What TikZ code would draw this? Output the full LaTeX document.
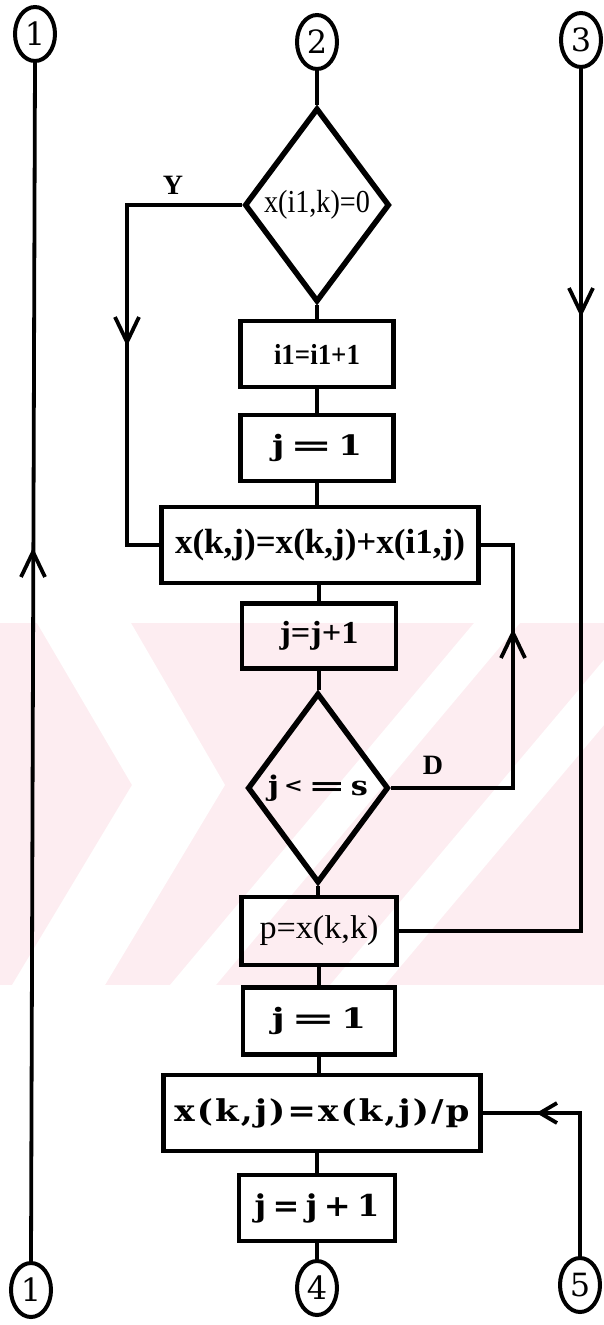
\documentclass[tikz,border=0pt]{standalone}
\usepackage{fontspec}
\usepackage{graphicx}
\usetikzlibrary{shapes.geometric,calc}
\newfontfamily\cent{DejaVu Serif}
\newfontfamily\tms{Liberation Serif}
\definecolor{wm}{RGB}{253,237,241}
\newcommand\fw[2]{\resizebox{#1}{\height}{#2}}
\newcommand\fs[1]{\fontsize{#1}{#1}\selectfont}
\newcommand\weq{\scalebox{1.5}[1]{=}}
\newcommand\arrup[1]{\draw[conn] ($(#1)+(-12,25)$) -- (#1) -- ($(#1)+(12,25)$);}
\newcommand\arrdown[1]{\draw[conn] ($(#1)+(-12,-25)$) -- (#1) -- ($(#1)+(12,-25)$);}
\newcommand\arrleft[1]{\draw[conn] ($(#1)+(17,-10)$) -- (#1) -- ($(#1)+(17,10)$);}
\begin{document}
\begin{tikzpicture}[x=1pt,y=-1pt,line join=miter,
  conn/.style={line width=3.8pt},
  bx/.style 2 args={draw,line width=4.5pt,inner sep=0pt,minimum width=#1,minimum height=#2},
  dm/.style 2 args={draw,diamond,line width=5.5pt,inner sep=0pt,minimum width=#1,minimum height=#2},
  circ/.style={draw,ellipse,line width=4pt,inner sep=0pt,minimum width=40,minimum height=54,font=\cent\fs{32}},
  lbl/.style={inner sep=0pt,font=\tms\bfseries\fs{28}}]
\useasboundingbox (0,0) rectangle (604,1325);
\fill[white] (0,0) rectangle (604,1325);
% watermark band
\fill[wm] (0,623) rectangle (604,985);
\begin{scope}
\clip (0,623) rectangle (604,985);
\fill[white] (37,623) -- (131,623) -- (225,785) -- (105,985) -- (12,985) -- (132,785) -- cycle;
\fill[white] (170,985) -- (216,985) -- (520,623) -- (474,623) -- cycle;
\fill[white] (330,985) -- (385,985) -- (690,623) -- (635,623) -- cycle;
\end{scope}
% connectors circles
\node[circ] (c1t) at (35,34) {1};
\node[circ] (c2t) at (317,42) {2};
\node[circ] (c3t) at (581,40) {3};
\node[circ] (c1b) at (31,1290) {1};
\node[circ] (c4) at (317,1288) {4};
\node[circ] (c5) at (580,1285) {5};
% shapes
\node[dm={145}{194}] (d1) at (317,205) {\tms\fs{32}\fw{106pt}{x(i1,k)=0}};
\node[bx={153}{66}] (b1) at (317,354) {\tms\bfseries\fs{29}\fw{86pt}{i1=i1+1}};
\node[bx={153}{66}] (b2) at (317,448) {\cent\bfseries\fs{28}\fw{90pt}{j\,\weq\,1}};
\node[bx={317}{76}] (b3) at (320,545) {\tms\bfseries\fs{35}\fw{290pt}{x(k,j)=x(k,j)+x(i1,j)}};
\node[bx={154}{65}] (b4) at (319,636) {\tms\bfseries\fs{32}\fw{79pt}{j=j+1}};
\node[dm={141}{190}] (d2) at (318,788) {\cent\bfseries\fs{27}\fw{100pt}{j\,\raisebox{3pt}{\fs{20}<}\,\weq\,s}};
\node[bx={155}{68}] (b5) at (319,931) {\tms\fs{33}\fw{119pt}{p=x(k,k)}};
\node[bx={152}{67}] (b6) at (319,1021) {\cent\bfseries\fs{28}\fw{94pt}{j\,\weq\,1}};
\node[bx={317}{76}] (b7) at (322,1113) {\cent\bfseries\fs{30}\addfontfeature{LetterSpace=6}\fw{295pt}{x(k,j)=x(k,j)/p}};
\node[bx={156}{66}] (b8) at (317,1208) {\cent\bfseries\fs{30}\addfontfeature{LetterSpace=20}\fw{125pt}{j=j+1}};
% labels
\node[lbl] (ly) at (173,185) {Y};
\node[lbl] (ld) at (433,765) {D};
% helper coordinates
\coordinate (yb) at (127,545);
\coordinate (dc) at (513,545);
\coordinate (aL) at (33,552);
\coordinate (aY) at (127,342);
\coordinate (a3) at (581,313);
\coordinate (aD) at (513,633);
\coordinate (a5) at (540,1113);
% spine
\draw[conn] (c2t.south) -- (c2t.south |- d1.north);
\draw[conn] (d1.south) -- (d1.south |- b1.north);
\draw[conn] (b1.south) -- (b1.south |- b2.north);
\draw[conn] (b2.south) -- (b2.south |- b3.north);
\draw[conn] (b4.north |- b3.south) -- (b4.north);
\draw[conn] (b4.south) -- (b4.south |- d2.north);
\draw[conn] (d2.south) -- (d2.south |- b5.north);
\draw[conn] (b5.south) -- (b5.south |- b6.north);
\draw[conn] (b6.south) -- (b6.south |- b7.north);
\draw[conn] (b8.north |- b7.south) -- (b8.north);
\draw[conn] (b8.south) -- (b8.south |- c4.north);
% side connectors
\draw[conn] (c1t.south) -- (c1b.north);
\draw[conn] (d1.west) -| (yb) -- (b3.west);
\draw[conn] (d2.east) -| (dc) -- (b3.east);
\draw[conn] (c3t.south) |- (b5.east);
\draw[conn] (c5.north) |- (b7.east);
% arrowheads
\arrup{aL}
\arrdown{aY}
\arrdown{a3}
\arrup{aD}
\arrleft{a5}
\end{tikzpicture}
\end{document}
